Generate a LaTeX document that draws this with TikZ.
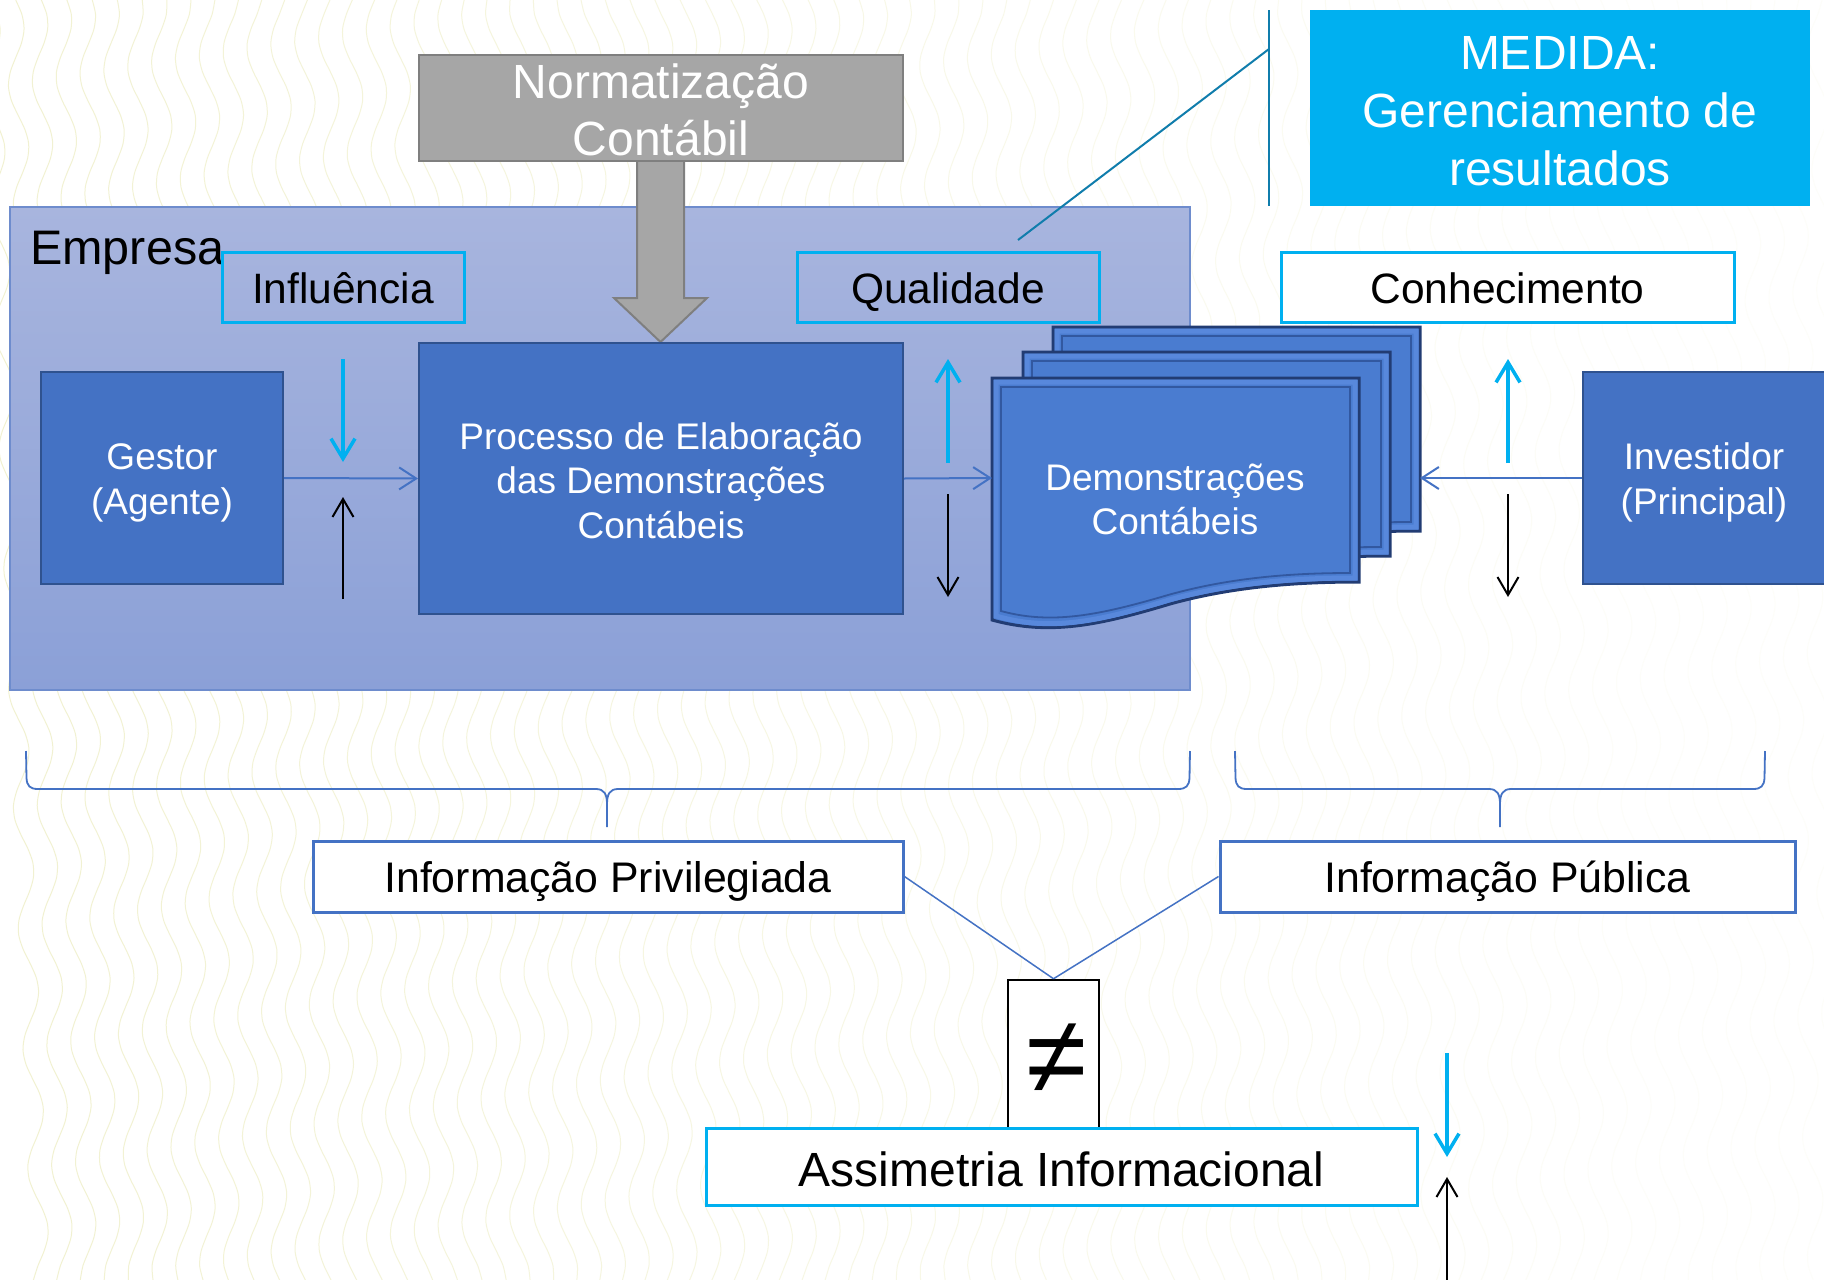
\documentclass[tikz,border=0pt]{standalone}
\usepackage{fontspec}
\setmainfont{Liberation Sans}
\usetikzlibrary{arrows.meta}
\definecolor{cyanb}{HTML}{00B0F0}
\definecolor{accent}{HTML}{4472C4}
\definecolor{accdark}{HTML}{2F528F}
\definecolor{grayf}{HTML}{A6A6A6}
\definecolor{grayd}{HTML}{7F7F7F}
\definecolor{emptop}{RGB}{168,181,222}
\definecolor{empbot}{RGB}{139,160,215}
\definecolor{empline}{RGB}{110,140,205}
\definecolor{docfill}{RGB}{74,124,208}
\definecolor{docdark}{RGB}{34,60,115}
\definecolor{docband}{RGB}{88,136,220}
\definecolor{docinner}{RGB}{50,88,160}
\definecolor{tealc}{RGB}{16,125,172}
\definecolor{wavec}{RGB}{236,236,190}
\tikzset{
  lblbox/.style={rectangle, draw=cyanb, line width=3pt, inner sep=0pt,
    minimum height=70pt, text height=33pt, text depth=0pt,
    font=\fontsize{42.5}{50}\selectfont},
  bluebox/.style={rectangle, fill=accent, draw=accdark, line width=2pt,
    text=white, align=center, inner sep=0pt, text depth=0pt,
    font=\fontsize{37}{44.5}\selectfont},
  infobox/.style={rectangle, draw=accent, fill=white, line width=3pt,
    inner sep=0pt, minimum height=71pt, text height=32pt, text depth=0pt,
    font=\fontsize{42.8}{50}\selectfont},
  conn/.style={draw=accent, line width=2pt, -{Straight Barb[length=17pt,width=22pt]}},
  cyanarr/.style={draw=cyanb, line width=3.5pt, -{Straight Barb[length=20pt,width=24pt]}},
  blackarr/.style={draw=black, line width=2pt, -{Straight Barb[length=18pt,width=21pt]}},
  bracec/.style={draw=accent, line width=1.8pt},
  docpage/.style={fill=docfill, draw=docdark, line width=3pt, line join=miter},
  docband/.style={draw=docband, line width=5pt, line join=miter},
  docedge/.style={draw=docinner, line width=1.8pt, line join=miter},
}
\begin{document}
\begin{tikzpicture}[x=1pt,y=-1pt]
\useasboundingbox (0,0) rectangle (1824,1280);
\fill[white] (0,0) rectangle (1824,1280);
% faint wavy background
\begin{scope}
\clip (0,0) rectangle (1824,1280);
\foreach \i in {0,...,76}{
  \pgfmathsetmacro{\xo}{-10+24*\i}
  \pgfmathsetmacro{\op}{max(0.08,0.7-0.7*\xo/1824)}
  \draw[wavec, line width=1pt, opacity=\op] plot[variable=\t, domain=0:1280, samples=90, smooth] ({\xo+9*sin(3*\t+\i*11)+0.04*\t},\t);
}
\end{scope}

% Empresa
\node[rectangle, top color=emptop, bottom color=empbot, draw=empline, line width=1.5pt,
  minimum width=1180pt, minimum height=483pt, inner sep=0pt] (empresa) at (600,448.5) {};
\node[anchor=west, inner sep=0pt, font=\fontsize{48.5}{57}\selectfont] (emplbl) at (30,253) {Empresa};

% gray block arrow
\draw[fill=grayf, draw=grayd, line width=2pt, line join=miter]
  (637,158) -- (637,298) -- (614,298) -- (660.5,342) -- (707,298) -- (684,298) -- (684,158);

% Normatizacao
\node[rectangle, fill=grayf, draw=grayd, line width=2.5pt, text=white, align=center,
  minimum width=484pt, minimum height=106pt, inner sep=0pt, text height=94pt, text depth=0pt,
  font=\fontsize{48}{57}\selectfont] (norm) at (661,108) {Normatização\\Contábil};

% MEDIDA callout
\node[rectangle, fill=cyanb, text=white, align=center, minimum width=500pt,
  minimum height=196pt, inner sep=0pt, text height=154pt, text depth=0pt,
  font=\fontsize{48}{58}\selectfont]
  (medida) at (1560,108) {MEDIDA:\\Gerenciamento de\\resultados};
\coordinate (barT) at (1269,10);
\coordinate (barB) at (1269,206);
\coordinate (barK) at (1269,49);
\coordinate (leadE) at (1018,240);
\draw[tealc, line width=2pt] (barT) -- (barB);
\draw[tealc, line width=2pt] (barK) -- (leadE);

% label boxes
\node[lblbox, minimum width=242pt] (infl) at (343,287) {Influência};
\node[lblbox, minimum width=302pt] (qual) at (948,287) {Qualidade};
\node[lblbox, fill=white, minimum width=453pt] (conh) at (1507.5,287) {Conhecimento};

% blue boxes
\node[bluebox, minimum width=242pt, minimum height=212pt, text height=72pt] (gestor) at (162,478) {Gestor\\(Agente)};
\node[bluebox, minimum width=484pt, minimum height=271pt, text height=119pt] (proc) at (661,478.5)
  {Processo de Elaboração\\das Demonstrações\\Contábeis};
\node[bluebox, minimum width=242pt, minimum height=212pt, text height=72pt] (invest) at (1704,478) {Investidor\\(Principal)};

% multi-document shape
\foreach \dx/\dy in {61/-51, 31/-26, 0/0}{
  \begin{scope}[shift={(\dx,\dy)}]
    \path[docpage] (992,378) -- (1359,378) -- (1359,582)
      .. controls (1300,582) and (1235,586) .. (1170,604)
      .. controls (1100,625) and (1050,636) .. (992,620) -- cycle;
    \path[docband] (996,382) -- (1355,382) -- (1355,578)
      .. controls (1298,578) and (1234,582) .. (1169,600)
      .. controls (1100,621) and (1051,632) .. (996,616) -- cycle;
    \path[docedge] (1001,387) -- (1350,387) -- (1350,573)
      .. controls (1295,573) and (1232,577) .. (1168,595)
      .. controls (1100,615) and (1052,625) .. (1001,611) -- cycle;
  \end{scope}
}
\node[text=white, align=center, inner sep=0pt, text height=70pt, text depth=0pt,
  font=\fontsize{37}{44}\selectfont]
  (demo) at (1175,499) {Demonstrações\\Contábeis};
\coordinate (demoL) at (992,478);
\coordinate (demoR) at (1420,478);

% horizontal connectors
\draw[conn] (gestor.east) -- (proc.west);
\draw[conn] (proc.east) -- (demoL);
\draw[conn] (invest.west) -- (demoR);

% vertical arrows
\coordinate (a1s) at (343,359); \coordinate (a1e) at (343,462);
\coordinate (b1s) at (343,599); \coordinate (b1e) at (343,497);
\coordinate (a2s) at (948,463); \coordinate (a2e) at (948,359);
\coordinate (b2s) at (948,494); \coordinate (b2e) at (948,597);
\coordinate (a3s) at (1508,463); \coordinate (a3e) at (1508,359);
\coordinate (b3s) at (1508,494); \coordinate (b3e) at (1508,597);
\coordinate (a4s) at (1447,1053); \coordinate (a4e) at (1447,1157);
\coordinate (b4s) at (1447,1282); \coordinate (b4e) at (1447,1177);
\draw[cyanarr] (a1s) -- (a1e);
\draw[blackarr] (b1s) -- (b1e);
\draw[cyanarr] (a2s) -- (a2e);
\draw[blackarr] (b2s) -- (b2e);
\draw[cyanarr] (a3s) -- (a3e);
\draw[blackarr] (b3s) -- (b3e);
\draw[cyanarr] (a4s) -- (a4e);
\draw[blackarr] (b4s) -- (b4e);

% braces
\draw[bracec] (26,751) -- (26.5,778) .. controls (27,786) and (30,789) .. (38,789) -- (596,789)
  .. controls (604,789) and (607,794) .. (607,804) -- (607,827);
\draw[bracec] (607,804) .. controls (607,794) and (610,789) .. (618,789) -- (1178,789)
  .. controls (1186,789) and (1189,786) .. (1189.5,778) -- (1190,751);
\draw[bracec] (1235,751) -- (1235.5,778) .. controls (1236,786) and (1239,789) .. (1247,789) -- (1489,789)
  .. controls (1497,789) and (1500,794) .. (1500,804) -- (1500,827);
\draw[bracec] (1500,804) .. controls (1500,794) and (1503,789) .. (1511,789) -- (1753,789)
  .. controls (1761,789) and (1764,786) .. (1764.5,778) -- (1765,751);

% info boxes
\node[infobox, minimum width=590pt] (ipriv) at (608,876.5) {Informação Privilegiada};
\node[infobox, minimum width=575pt] (ipub) at (1507.5,876.5) {Informação Pública};

% not-equal box
\node[rectangle, draw=black, fill=white, line width=2.5pt, minimum width=91pt,
  minimum height=148pt, inner sep=0pt] (neq) at (1053.5,1054) {};
\node[inner sep=0pt, font=\fontsize{110}{110}\selectfont] (neqsym) at (1057,1059) {≠};
\draw[accent, line width=1.5pt] (ipriv.east) -- (neq.north);
\draw[accent, line width=1.5pt] (ipub.west) -- (neq.north);

% Assimetria
\node[rectangle, draw=cyanb, fill=white, line width=3pt, minimum width=711pt,
  minimum height=77pt, inner sep=0pt, text height=39pt, text depth=0pt,
  font=\fontsize{48}{56}\selectfont]
  (assim) at (1061.5,1166.5) {Assimetria Informacional};
\end{tikzpicture}
\end{document}
